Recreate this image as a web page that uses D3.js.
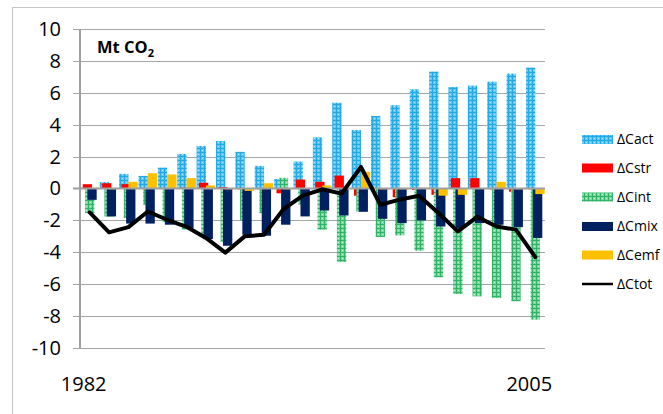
<!DOCTYPE html>
<html>
<head>
<meta charset="utf-8">
<script src="https://cdn.jsdelivr.net/npm/d3@7/dist/d3.min.js"></script>
<style>
  html, body { margin: 0; padding: 0; background: #fff; }
  svg { display: block; font-family: "Open Sans", "Liberation Sans", sans-serif; }
</style>
</head>
<body>
<svg id="chart" width="663" height="414"></svg>
<script>
// Decomposition of CO2 emission changes, 1982-2005 (Mt CO2)
const years = d3.range(1982, 2006);
const seriesNames = ["ΔCact", "ΔCstr", "ΔCint", "ΔCmix", "ΔCemf"];
const lineName = "ΔCtot";

const cAct = [0.05, 0.40, 0.92, 0.79, 1.31, 2.17, 2.67, 2.98, 2.30, 1.42, 0.59, 1.69,
              3.21, 5.38, 3.67, 4.55, 5.22, 6.22, 7.33, 6.37, 6.45, 6.70, 7.20, 7.58];
const cStr = [0.27, 0.33, 0.27, 0.00, 0.00, 0.05, 0.36, 0.08, -0.05, -0.05, -0.30, 0.56,
              0.42, 0.81, -0.45, 0.00, -0.55, -0.10, -0.40, 0.65, 0.65, -0.05, -0.20, -0.05];
const cInt = [-1.54, -1.75, -1.85, -1.02, -2.10, -2.58, -2.90, -3.35, -2.00, -1.55, 0.67, -1.00,
              -2.58, -4.60, -1.44, -3.04, -2.94, -3.90, -5.57, -6.61, -6.76, -6.86, -7.07, -8.22];
const cMix = [-0.71, -1.75, -2.20, -2.20, -2.27, -2.48, -3.17, -3.59, -2.90, -2.96, -2.27, -1.75,
              -1.38, -1.69, -1.46, -1.90, -2.17, -2.00, -2.38, -2.48, -2.17, -2.27, -2.42, -3.10];
const cEmf = [0.05, -0.05, 0.42, 0.96, 0.88, 0.65, 0.19, -0.05, -0.15, 0.33, -0.05, 0.00,
              0.19, 0.00, 1.05, -0.05, -0.05, 0.05, -0.45, -0.40, 0.00, 0.42, -0.05, -0.35];
const cTot = [-1.50, -2.75, -2.42, -1.44, -1.96, -2.40, -3.10, -4.02, -3.00, -2.90, -1.30, -0.45,
              -0.05, -0.32, 1.35, -1.02, -0.70, -0.45, -1.54, -2.69, -1.78, -2.38, -2.58, -4.30];

const yTicks = [-10, -8, -6, -4, -2, 0, 2, 4, 6, 8, 10];
const xTickYears = [1982, 2005];

const seriesValues = [cAct, cStr, cInt, cMix, cEmf];
const fills = ["url(#patAct)", "#ff0000", "url(#patInt)", "#002060", "#ffc000"];

const svg = d3.select("#chart");

// hatched-grid fills for the activity and intensity effects
const defs = svg.append("defs");
function gridPattern(id, base, line, light) {
  const p = defs.append("pattern").attr("id", id)
    .attr("patternUnits", "userSpaceOnUse").attr("width", 4).attr("height", 4);
  p.append("rect").attr("width", 4).attr("height", 4).attr("fill", base);
  p.append("rect").attr("x", 0).attr("y", 0).attr("width", 4).attr("height", 1).attr("fill", line);
  p.append("rect").attr("x", 0).attr("y", 0).attr("width", 1).attr("height", 4).attr("fill", line);
  p.append("rect").attr("x", 2).attr("y", 2).attr("width", 1).attr("height", 1).attr("fill", light);
}
gridPattern("patAct", "#5ec6f2", "#22a9e6", "#b5e6fb");
gridPattern("patInt", "#7fd6a2", "#2fb466", "#c4eed5");

// outer chart frame
svg.append("rect").attr("x", 12.5).attr("y", 7.5).attr("width", 670).attr("height", 430)
  .attr("fill", "none").attr("stroke", "#c4c4c4").attr("stroke-width", 1);

const plot = { left: 80, right: 545, top: 29, bottom: 348 };

const x = d3.scaleBand().domain(years).range([plot.left, plot.right]).padding(0);
const y = d3.scaleLinear().domain([-10, 10]).range([plot.bottom, plot.top]);

// horizontal gridlines with outside tick marks
svg.append("g").selectAll("line").data(yTicks.filter(d => d !== 0)).join("line")
  .attr("x1", plot.left - 7).attr("x2", plot.right)
  .attr("y1", d => Math.round(y(d)) + 0.5).attr("y2", d => Math.round(y(d)) + 0.5)
  .attr("stroke", "#a6a6a6").attr("stroke-width", 1.2);

// y axis labels (plain hyphen for negatives)
const yAxis = d3.axisLeft(y).tickValues(yTicks).tickFormat(d => String(d))
  .tickSize(0).tickPadding(0);
const gy = svg.append("g").attr("transform", `translate(${plot.left - 19},0)`).call(yAxis);
gy.select(".domain").remove();
gy.selectAll("text").attr("font-size", 20).attr("fill", "#000")
  .attr("font-family", "'Open Sans', sans-serif");

// clustered, overlapping bars (75% overlap)
const bw = x.bandwidth() / 2.08;
const step = bw / 4;
const gap0 = (x.bandwidth() - (bw + 4 * step)) / 2;

seriesValues.forEach((vals, k) => {
  svg.append("g").selectAll("rect").data(vals).join("rect")
    .attr("x", (d, i) => x(years[i]) + gap0 + k * step)
    .attr("width", bw)
    .attr("y", d => y(Math.max(0, d)))
    .attr("height", d => Math.abs(y(d) - y(0)))
    .attr("fill", fills[k]);
});

// vertical axis line and zero line
svg.append("line").attr("x1", plot.left).attr("x2", plot.left)
  .attr("y1", plot.top).attr("y2", plot.bottom + 0.5)
  .attr("stroke", "#a0a0a0").attr("stroke-width", 2);
svg.append("line").attr("x1", plot.left - 7).attr("x2", plot.right)
  .attr("y1", y(0)).attr("y2", y(0))
  .attr("stroke", "#a0a0a0").attr("stroke-width", 2);

// total change line
const line = d3.line()
  .x((d, i) => x(years[i]) + x.bandwidth() / 2)
  .y(d => y(d));
svg.append("path").datum(cTot).attr("d", line)
  .attr("fill", "none").attr("stroke", "#000").attr("stroke-width", 4)
  .attr("stroke-linejoin", "round").attr("stroke-linecap", "round");

// x axis labels: first and last year only
const xAxis = d3.axisBottom(x).tickValues(xTickYears).tickSize(0).tickPadding(0);
const gx = svg.append("g").attr("transform", `translate(-6,${plot.bottom + 43})`).call(xAxis);
gx.select(".domain").remove();
gx.selectAll("text").attr("font-size", 20).attr("fill", "#000").attr("dy", "0")
  .attr("font-family", "'Open Sans', sans-serif");

// unit label
const unit = svg.append("text").attr("x", 97).attr("y", 53)
  .attr("font-size", 16.5).attr("font-weight", "bold").attr("fill", "#000");
unit.append("tspan").text("Mt CO");
unit.append("tspan").text("2").attr("font-size", 11).attr("dy", 4);

// legend
const legendY = [139.5, 168, 197, 226.5, 255, 284];
const legend = svg.append("g");
seriesNames.forEach((name, k) => {
  legend.append("rect").attr("x", 582).attr("y", legendY[k] - 4.5)
    .attr("width", 31).attr("height", 9).attr("fill", fills[k]);
  legend.append("text").attr("x", 617).attr("y", legendY[k]).attr("dy", "0.35em")
    .attr("font-size", 14).attr("fill", "#000").text(name);
});
legend.append("line").attr("x1", 582).attr("x2", 613)
  .attr("y1", legendY[5]).attr("y2", legendY[5])
  .attr("stroke", "#000").attr("stroke-width", 2.5);
legend.append("text").attr("x", 617).attr("y", legendY[5]).attr("dy", "0.35em")
  .attr("font-size", 14).attr("fill", "#000").text(lineName);
</script>
</body>
</html>
